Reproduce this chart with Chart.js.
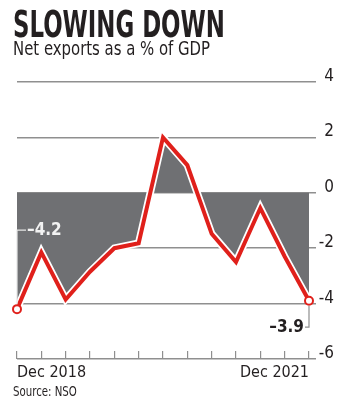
<!DOCTYPE html>
<html>
<head>
<meta charset="utf-8">
<script src="https://cdn.jsdelivr.net/npm/chart.js@4.4.1/dist/chart.umd.min.js"></script>
<style>
    html, body { margin: 0; padding: 0; background: #fff; }
    #wrap { position: relative; width: 343px; height: 400px; overflow: hidden; }
    #chart { position: absolute; left: 0; top: 0; }
    .txt {
        position: absolute; left: 13px; white-space: nowrap; color: #231f20;
        transform-origin: 0 0;
        font-family: "Liberation Sans Narrow", "DejaVu Sans Condensed", Roboto, sans-serif;
    }
    #title { top: 5px; font-size: 38px; line-height: 38px; font-weight: bold; }
    #subtitle { top: 39px; font-size: 19px; line-height: 19px; }
    #source { top: 384px; font-size: 14px; line-height: 14px; }
</style>
</head>
<body>
<div id="wrap">
    <canvas id="chart" width="343" height="400"></canvas>
    <div class="txt" id="title">SLOWING DOWN</div>
    <div class="txt" id="subtitle">Net exports as a % of GDP</div>
    <div class="txt" id="source">Source: NSO</div>
</div>
<script>
// Quarters, Dec 2018 to Dec 2021
const quarters = ['Dec 2018', 'Mar 2019', 'Jun 2019', 'Sep 2019', 'Dec 2019', 'Mar 2020',
    'Jun 2020', 'Sep 2020', 'Dec 2020', 'Mar 2021', 'Jun 2021', 'Sep 2021', 'Dec 2021'];

// Net exports, % of GDP
const netExports = [-4.2, -2.15, -3.85, -2.85, -2.0, -1.82, 2.0, 1.0, -1.48, -2.5, -0.55, -2.3, -3.9];

// Axis range
const yMin = -6;
const yMax = 4;
const yStep = 2;

const RED = '#e0201b';
const FILL = '#6f7073';
const GRID = '#8f8f8f';
const INK = '#231f20';
const FONT = '"Liberation Sans Narrow", "DejaVu Sans Condensed", Roboto, sans-serif';

// squeeze html headings to the widths in the print layout
function fitWidth(id, w) {
    const el = document.getElementById(id);
    el.style.transform = `scaleX(${w / el.offsetWidth})`;
}
fitWidth('title', 212);
fitWidth('subtitle', 197);
fitWidth('source', 64);

const last = netExports.length - 1;

// first / last value callouts with leader lines
const calloutPlugin = {
    id: 'callouts',
    afterDatasetsDraw(chart) {
        const { ctx } = chart;
        const x = chart.scales.x;
        const y = chart.scales.y;
        const x0 = x.getPixelForValue(0);
        const y0 = y.getPixelForValue(netExports[0]);
        const xn = x.getPixelForValue(last);
        const yn = y.getPixelForValue(netExports[last]);
        const yA = y.getPixelForValue(-1.35);
        const yB = y.getPixelForValue(-4.85);

        ctx.save();
        ctx.lineWidth = 1.2;

        ctx.strokeStyle = '#e6e6e6';
        ctx.beginPath();
        ctx.moveTo(x0, y0 - 5);
        ctx.lineTo(x0, yA);
        ctx.lineTo(x0 + 9, yA);
        ctx.stroke();

        ctx.strokeStyle = GRID;
        ctx.beginPath();
        ctx.moveTo(xn, yn + 5);
        ctx.lineTo(xn, yB);
        ctx.lineTo(xn - 4, yB);
        ctx.stroke();

        ctx.font = 'bold 17px ' + FONT;
        ctx.textBaseline = 'middle';
        ctx.fillStyle = '#f2f2f2';
        ctx.textAlign = 'left';
        ctx.fillText(netExports[0].toFixed(1).replace('-', '\u2013'), x0 + 10, yA);
        ctx.fillStyle = INK;
        ctx.textAlign = 'right';
        ctx.fillText(netExports[last].toFixed(1).replace('-', '\u2013'), xn - 5, yB);
        ctx.restore();
    }
};

new Chart(document.getElementById('chart'), {
    type: 'line',
    data: {
        labels: quarters,
        datasets: [{
            data: netExports,
            borderColor: RED,
            borderWidth: 4,
            borderJoinStyle: 'miter',
            tension: 0,
            fill: false,
            pointRadius: netExports.map((v, i) => (i === 0 || i === last) ? 4 : 0),
            pointBackgroundColor: '#fff',
            pointBorderColor: RED,
            pointBorderWidth: 2
        }, {
            // white halo + grey area between the line and zero
            data: netExports,
            borderColor: '#fff',
            borderWidth: 7.5,
            borderJoinStyle: 'miter',
            tension: 0,
            fill: { value: 0 },
            backgroundColor: FILL,
            pointRadius: 0
        }]
    },
    options: {
        responsive: false,
        animation: false,
        layout: { padding: { top: 82, left: 17, right: 9, bottom: 0 } },
        plugins: {
            legend: { display: false },
            tooltip: { enabled: false }
        },
        scales: {
            x: {
                offset: false,
                border: { display: false },
                grid: {
                    drawOnChartArea: false,
                    drawTicks: true,
                    tickLength: -8,
                    color: GRID,
                    lineWidth: 1.2
                },
                ticks: {
                    autoSkip: false,
                    maxRotation: 0,
                    align: 'inner',
                    padding: 12,
                    color: INK,
                    font: { family: FONT, size: 16 },
                    callback: (v, i) => (i === 0 || i === last) ? quarters[i] : ''
                },
                afterFit: s => { s.height = 41; }
            },
            y: {
                position: 'right',
                min: yMin,
                max: yMax,
                border: { display: false },
                grid: { color: GRID, lineWidth: 1.5, tickLength: 7 },
                ticks: {
                    stepSize: yStep,
                    crossAlign: 'far',
                    padding: 3,
                    labelOffset: -5.5,
                    color: INK,
                    font: { family: FONT, size: 17 }
                },
                afterFit: s => { s.width = 25; }
            }
        }
    },
    plugins: [calloutPlugin]
});
</script>
</body>
</html>
